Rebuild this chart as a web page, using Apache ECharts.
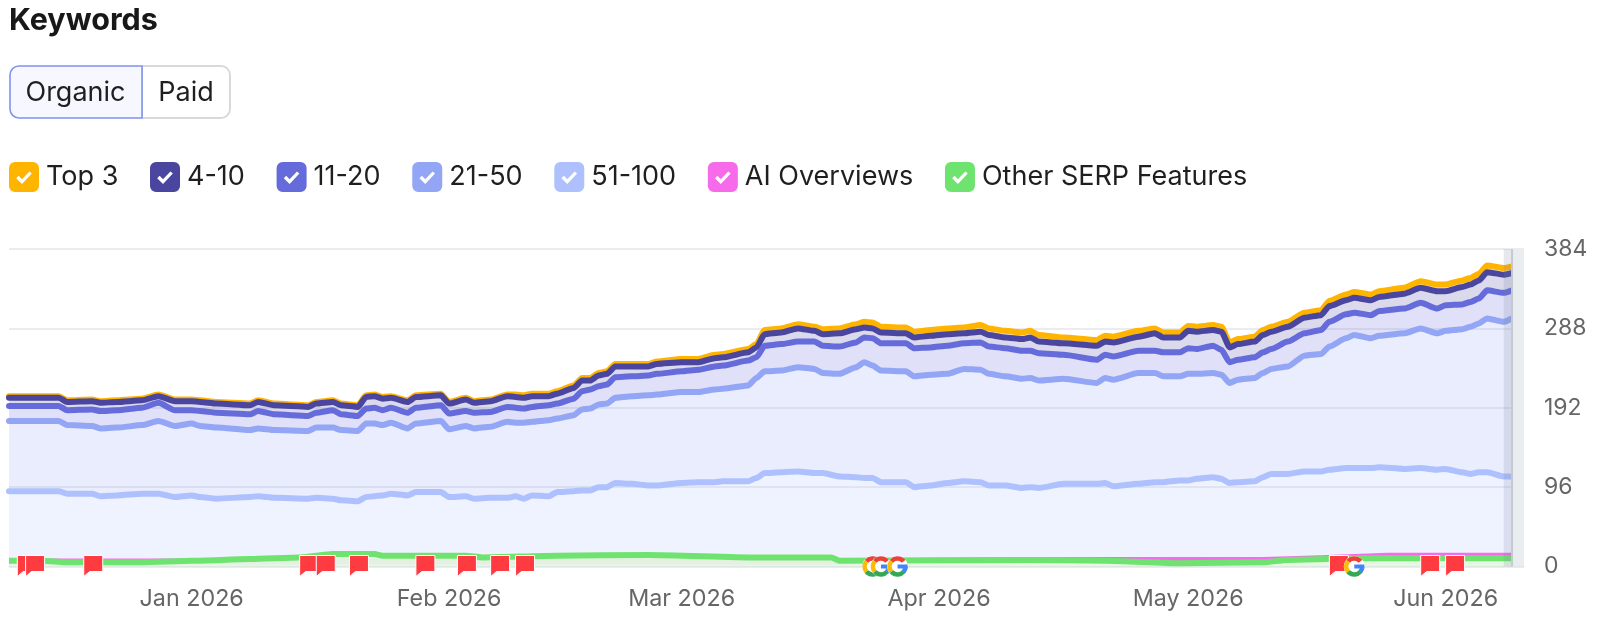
<!DOCTYPE html>
<html>
<head>
<meta charset="utf-8">
<title>Keywords</title>
<style>
  html, body { margin: 0; padding: 0; background: #fff; }
  #chart { width: 1600px; height: 643px; }
</style>
<script src="https://cdn.jsdelivr.net/npm/echarts@6/dist/echarts.min.js"></script>
</head>
<body>
<div id="chart"></div>
<script>
// Keyword counts by ranking band, sampled at day offsets from the first date.
const firstDay = '2025-12-10';
const sampleDays = [0,4,6,7,10,11,13,16,18,20,22,23,25,29,30,32,36,37,39,40,42,43,44,45,46,48,49,52,53,55,56,58,60,61,62,63,65,66,68,69,70,71,72,73,75,77,78,81,83,85,86,89,90,91,93,95,97,98,100,102,103,104,105,108,109,111,113,115,117,118,120,122,123,124,127,131,132,133,136,138,139,141,142,143,145,146,147,148,150,151,152,154,156,158,159,161,162,164,165,168,170,172,173,175,176,177,178,180,181];
const pos51to100 = [91,91,91,88,88,85,86,88,88,84,86,84,82,84,85,83,82,83,82,80,79,84,85,86,88,86,90,90,84,85,82,83,83,85,82,86,85,90,91,92,92,96,96,101,100,98,98,101,102,102,103,103,107,113,114,115,113,113,109,108,107,107,102,102,96,98,101,103,102,98,98,95,96,95,100,100,101,97,100,102,102,104,104,106,108,106,101,102,103,108,112,112,115,115,117,119,119,119,120,118,119,117,118,114,112,114,114,109,109];
const pos21to50 = [85,85,85,83,82,82,82,83,88,86,87,86,86,81,82,82,82,85,86,85,85,89,88,85,86,81,83,86,82,85,85,86,92,89,92,89,92,89,92,98,99,100,101,103,106,109,110,110,109,112,112,116,121,123,123,126,126,121,124,133,140,136,135,134,134,134,132,136,136,135,132,132,132,130,127,122,127,129,134,132,128,126,129,127,126,126,121,124,125,126,127,130,140,142,149,157,161,157,159,164,169,165,167,173,178,180,186,187,191];
const pos11to20 = [18,18,18,18,20,21,21,21,22,19,16,18,18,19,21,19,18,18,21,19,18,18,19,18,18,19,19,19,19,18,19,18,18,18,17,18,18,18,20,22,23,22,23,25,24,24,25,25,27,28,28,30,25,31,32,31,33,33,33,30,30,33,33,34,34,33,34,31,33,33,34,34,33,33,29,28,28,28,27,27,29,29,31,30,33,30,25,24,25,25,24,30,27,29,30,29,27,28,30,30,31,30,31,30,30,30,34,35,34];
const pos4to10 = [10,10,10,10,10,10,10,9,8,11,11,11,11,11,11,11,11,11,10,11,11,14,14,14,12,13,13,12,12,14,12,13,13,13,13,13,11,12,13,13,11,13,13,13,12,11,12,11,9,10,10,10,12,14,14,16,13,14,16,16,12,12,13,12,13,14,14,12,13,14,13,14,16,14,14,17,16,17,17,21,18,18,21,21,19,22,18,19,19,21,21,18,19,18,19,17,18,18,17,18,18,21,17,21,21,22,22,22,21];
const posTop3 = [2,2,2,2,2,2,2,2,2,2,2,2,2,2,2,2,2,2,2,2,2,2,2,2,2,2,2,2,2,2,2,2,2,3,3,3,3,3,3,3,3,3,3,3,3,3,3,4,4,4,4,4,4,5,5,5,5,6,6,6,7,7,7,7,7,7,7,7,8,8,8,8,8,8,7,7,7,7,7,6,6,6,6,6,6,6,6,6,6,6,6,6,6,6,6,7,7,7,7,7,8,8,8,8,8,8,8,8,8];

// SERP feature counts, not part of the ranking stack.
const otherDays = [0,4,7,12,16,22,29,35,39,44,45,55,57,66,77,90,95,99,100,123,132,141,151,154,163,181];
const otherSerp = [7,7,5,5,5,7,9,11,15,15,13,13,11,13,14,11,11,11,7,8,7,4,5,8,10,10];
const aiDays = [0,100,128,151,158,166,181];
const aiOverviews = [6,6,8,8,10,13,13];

// Event markers along the baseline.
const flagDates = ['2025-12-11','2025-12-12','2025-12-19','2026-01-14','2026-01-16','2026-01-20','2026-01-28','2026-02-02','2026-02-06','2026-02-09','2026-05-18','2026-05-29','2026-06-01'];
const googleDates = ['2026-03-24','2026-03-25','2026-03-27','2026-05-21'];

// Axis labelling.
const monthLabels = { '2026-0': 'Jan 2026', '2026-1': 'Feb 2026', '2026-2': 'Mar 2026', '2026-3': 'Apr 2026', '2026-4': 'May 2026', '2026-5': 'Jun 2026' };
const yTicks = [0, 96, 192, 288, 384];

const FONT = 'Inter, "Noto Sans", sans-serif';
const toTime = s => new Date(s + 'T00:00:00').getTime();
const DAY = 86400000;
const startTime = toTime(firstDay);
const atDay = d => startTime + d * DAY;
const lastTime = atDay(181);
const axisEnd = atDay(182.44);

const pairs = (days, values) => days.map((d, i) => [atDay(d), values[i]]);

function monthLabel(value) {
  const d = new Date(value);
  return d.getDate() === 1 ? (monthLabels[d.getFullYear() + '-' + d.getMonth()] || '') : '';
}

// Rounded checkbox with a tick cut out of it.
const CHECKBOX = 'path://M6 0H24A6 6 0 0 1 30 6V24A6 6 0 0 1 24 30H6A6 6 0 0 1 0 24V6A6 6 0 0 1 6 0Z' +
  'M7.2 16.2L13 22L22.8 11.6L20.4 9.4L13 17.2L9.6 13.8Z';

function stacked(name, values, color, fillAlpha, z) {
  return {
    name, type: 'line', stack: 'ranks', z,
    data: pairs(sampleDays, values),
    showSymbol: false, symbol: 'none', silent: true,
    smooth: 0.2, smoothMonotone: 'x',
    itemStyle: { color },
    lineStyle: { color, width: 6, join: 'round', cap: 'round' },
    areaStyle: { color, opacity: fillAlpha }
  };
}

function renderFlag(params, api) {
  const p = api.coord([api.value(0), 0]);
  const x = p[0], y = p[1];
  return {
    type: 'polygon',
    shape: { points: [[x, y - 11], [x + 19, y - 11], [x + 19, y + 5], [x + 6, y + 5], [x, y + 10]] },
    style: { fill: '#FF3B42', stroke: '#fff', lineWidth: 1 }
  };
}

function renderGoogle(params, api) {
  const p = api.coord([api.value(0), 0]);
  const cx = p[0], cy = p[1], r = 8;
  const rad = a => a * Math.PI / 180;
  const arc = (from, to, stroke) => ({
    type: 'arc',
    shape: { cx, cy, r, startAngle: rad(from), endAngle: rad(to), clockwise: true },
    style: { fill: null, stroke, lineWidth: 4.6 }
  });
  return {
    type: 'group',
    children: [
      { type: 'circle', shape: { cx, cy, r: 10.5 }, style: { fill: '#fff' } },
      arc(-140, -40, '#EA4335'),
      arc(140, 220, '#FBBC05'),
      arc(40, 140, '#34A853'),
      arc(0, 42, '#4285F4'),
      { type: 'rect', shape: { x: cx, y: cy - 2, width: r + 2, height: 4 }, style: { fill: '#4285F4' } }
    ]
  };
}

// Highlight for the latest day plus the strip after it.
function renderLatest(params, api) {
  const top = api.coord([lastTime, 384])[1];
  const bottom = api.coord([lastTime, 0])[1];
  const xPrev = api.coord([atDay(180), 0])[0];
  const xLast = api.coord([lastTime, 0])[0];
  const xEnd = api.coord([axisEnd, 0])[0];
  return {
    type: 'group',
    children: [
      { type: 'rect', shape: { x: xPrev, y: top, width: xLast - xPrev, height: bottom - top }, style: { fill: 'rgba(120,130,160,0.18)' } },
      { type: 'rect', shape: { x: xLast, y: top, width: xEnd - xLast, height: bottom - top }, style: { fill: '#E9EDEF' } },
      { type: 'rect', shape: { x: xLast - 1, y: top, width: 2, height: bottom - top }, style: { fill: '#C5CAD0' } }
    ]
  };
}

const chart = echarts.init(document.getElementById('chart'), null, { renderer: 'canvas' });
chart.setOption({
  animation: false,
  backgroundColor: '#fff',
  textStyle: { fontFamily: FONT },
  title: {
    text: 'Keywords', left: 9, top: 5, padding: 0,
    textStyle: { fontFamily: FONT, fontSize: 30.5, fontWeight: 700, color: '#181818' }
  },
  legend: {
    left: 9, top: 162, padding: 0,
    icon: CHECKBOX,
    itemWidth: 30, itemHeight: 30, itemGap: 31.7,
    itemStyle: { borderWidth: 0 },
    selectedMode: false,
    textStyle: { fontFamily: FONT, fontSize: 27, color: '#1F1F1F', padding: [0, 0, 0, 2] },
    data: ['Top 3', '4-10', '11-20', '21-50', '51-100', 'AI Overviews', 'Other SERP Features']
  },
  grid: { left: 9, top: 249, width: 1515, height: 317.5 },
  xAxis: {
    type: 'time',
    min: startTime, max: axisEnd,
    minInterval: 28 * DAY,
    splitLine: { show: false },
    axisTick: { show: false },
    axisLine: { lineStyle: { color: '#DCDDE0', width: 1 } },
    axisLabel: {
      formatter: monthLabel,
      color: '#666', fontSize: 23.3, fontFamily: FONT, margin: 21, hideOverlap: false
    }
  },
  yAxis: {
    type: 'value', position: 'right',
    min: yTicks[0], max: yTicks[yTicks.length - 1], interval: yTicks[1] - yTicks[0],
    axisLine: { show: false }, axisTick: { show: false },
    splitLine: { lineStyle: { color: '#ECECEF', width: 2 } },
    axisLabel: { color: '#666', fontSize: 23, fontFamily: FONT, margin: 20 }
  },
  series: [
    stacked('51-100', pos51to100, '#AEC1FE', 0.2, 6),
    stacked('21-50', pos21to50, '#93A5F5', 0.2, 5),
    stacked('11-20', pos11to20, '#656BDA', 0.2, 4),
    stacked('4-10', pos4to10, '#4A469F', 0.2, 3),
    stacked('Top 3', posTop3, '#FFB400', 0.2, 2),
    {
      name: 'AI Overviews', type: 'line', z: 7, silent: true,
      data: pairs(aiDays, aiOverviews), symbol: 'none',
      itemStyle: { color: '#F76BEA' },
      lineStyle: { color: '#F76BEA', width: 6, join: 'round' }
    },
    {
      name: 'Other SERP Features', type: 'line', z: 8, silent: true,
      data: pairs(otherDays, otherSerp), symbol: 'none',
      smooth: 0.2, smoothMonotone: 'x',
      itemStyle: { color: '#6FE36F' },
      lineStyle: { color: '#6FE36F', width: 6, join: 'round' },
      areaStyle: { color: 'rgb(229,248,226)', opacity: 0.95 }
    },
    { name: 'latest', type: 'custom', z: 9, silent: true, data: [[lastTime, 0]], renderItem: renderLatest },
    { name: 'flags', type: 'custom', z: 10, silent: true, clip: false, data: flagDates.map(d => [toTime(d), 0]), renderItem: renderFlag },
    { name: 'google', type: 'custom', z: 11, silent: true, clip: false, data: googleDates.map(d => [toTime(d), 0]), renderItem: renderGoogle }
  ],
  graphic: [
    { type: 'rect', z: 20, shape: { x: 142, y: 66, width: 88, height: 52, r: [0, 9, 9, 0] }, style: { fill: '#fff', stroke: '#D9D9D9', lineWidth: 2 } },
    { type: 'rect', z: 21, shape: { x: 10, y: 66, width: 132, height: 52, r: [9, 0, 0, 9] }, style: { fill: '#F6F7FF', stroke: '#8093F1', lineWidth: 1.6 } },
    { type: 'text', z: 22, x: 75.5, y: 93, style: { text: 'Organic', fill: '#1F1F1F', font: '27px ' + FONT, align: 'center', verticalAlign: 'middle' } },
    { type: 'text', z: 22, x: 186, y: 93, style: { text: 'Paid', fill: '#1F1F1F', font: '27px ' + FONT, align: 'center', verticalAlign: 'middle' } }
  ]
});
</script>
</body>
</html>
